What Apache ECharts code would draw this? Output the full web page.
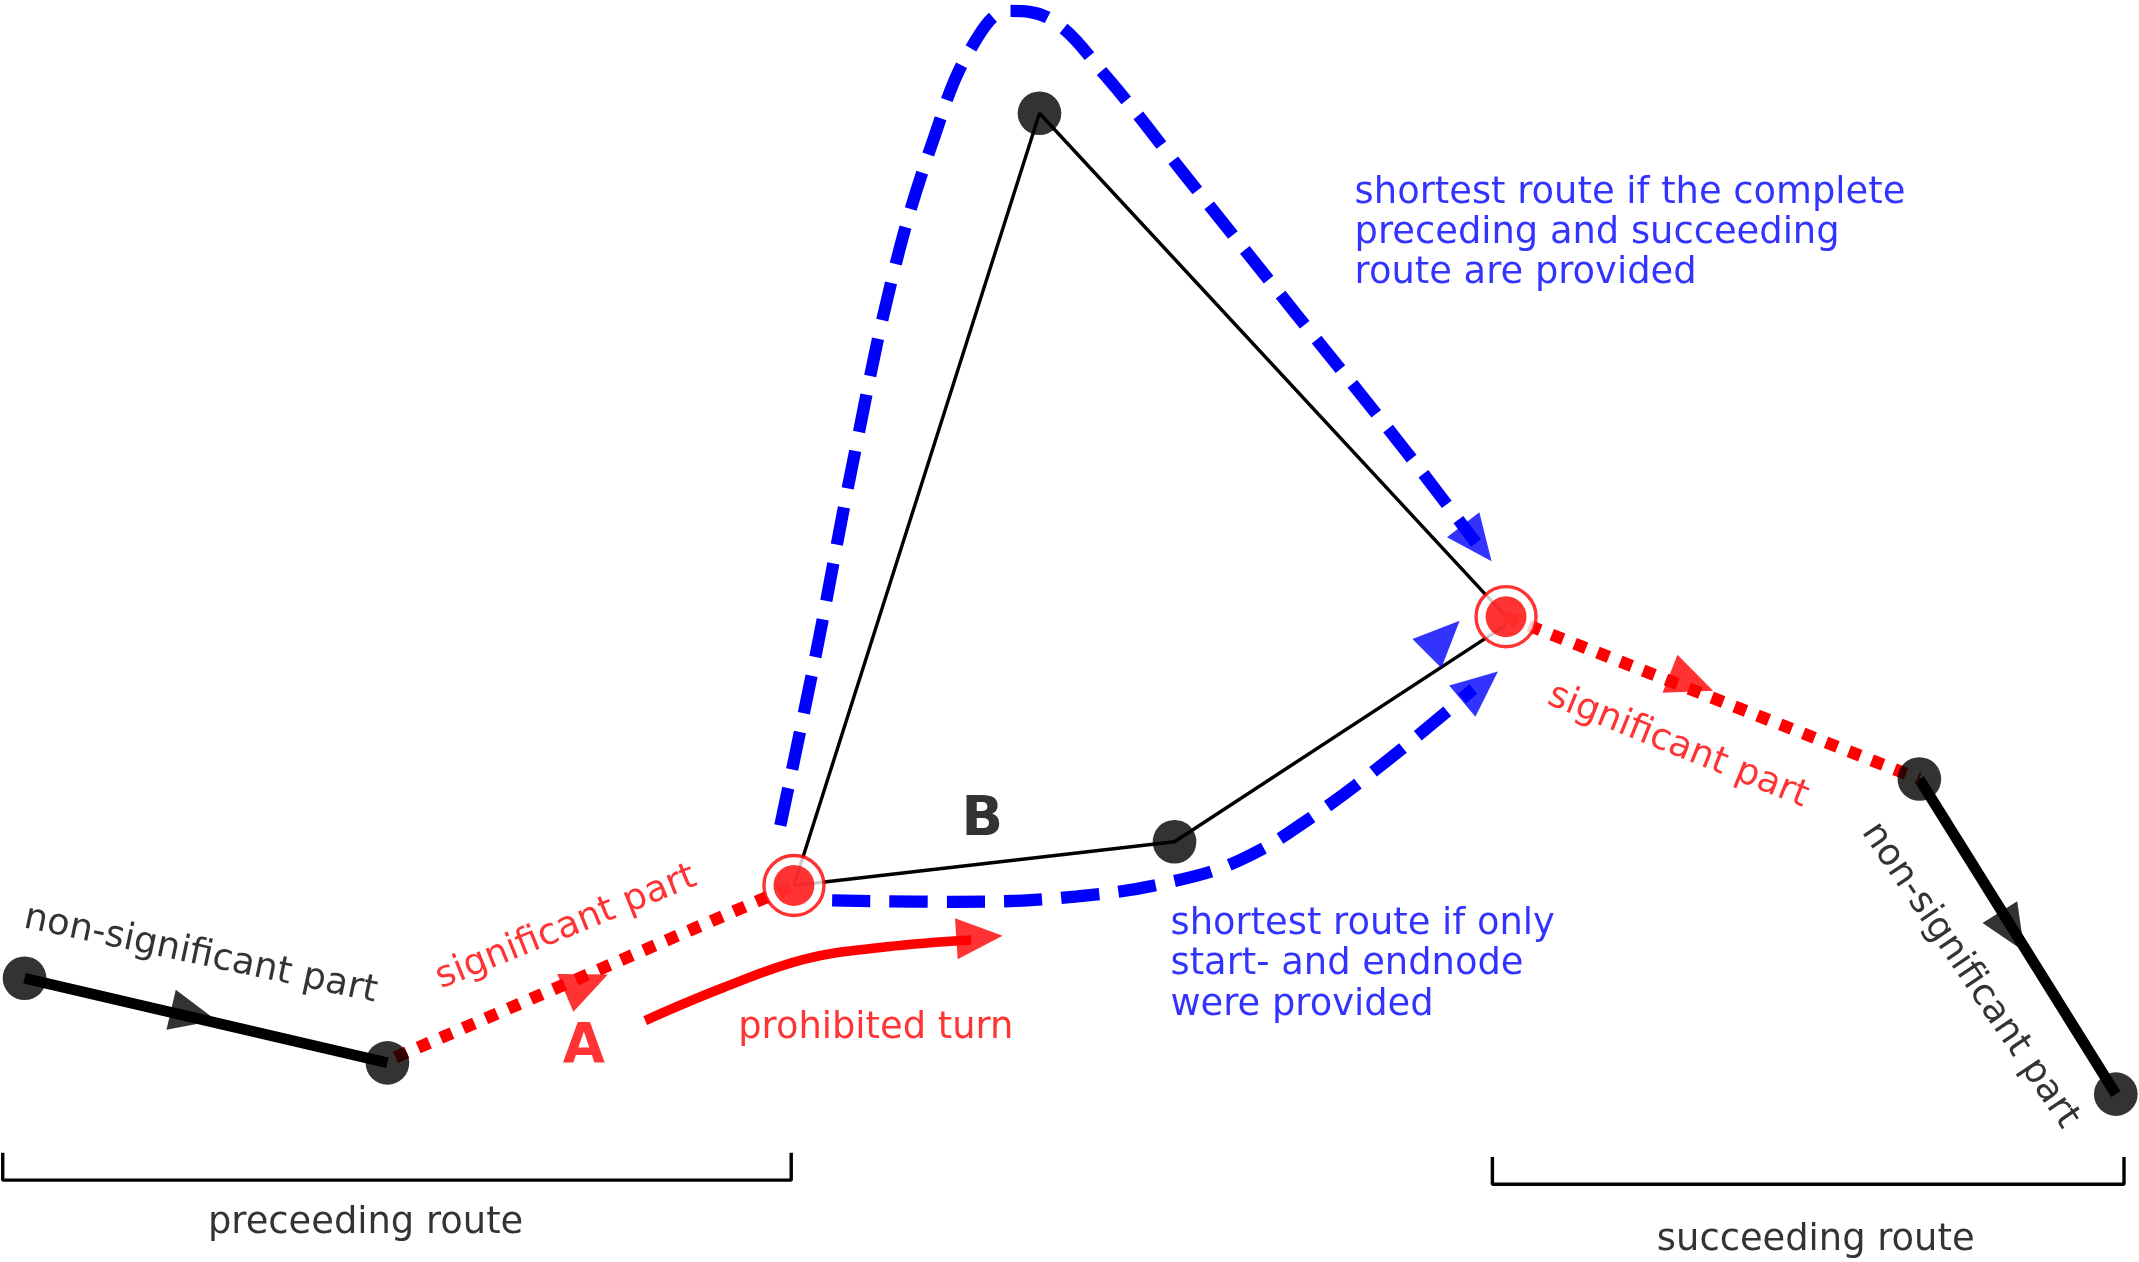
<!DOCTYPE html>
<html><head><meta charset="utf-8">
<script src="https://cdn.jsdelivr.net/npm/echarts@6/dist/echarts.min.js"></script>
<style>html,body{margin:0;padding:0;background:#fff}#c{width:2139px;height:1262px}</style>
</head><body><div id="c"></div>
<script>
// coordinates in a 1568 x 925 drawing space
var blackNodes = [[18,717],[284,779],[762,83],[861,617],[1407,571],[1551,802]];
var redNodes = [[582,649],[1104,452]];
var thinA = [[582,649],[762,83],[1104,452]];
var thinB = [[582,649],[861,617],[1104,458]];
var thickL = [[18,717],[284,779]];
var thickR = [[1407,571],[1551,802]];
var redDotL = [[290,775],[582,649]];
var redDotR = [[1104,452],[1407,571]];
var blueTop = [[572,605],[598,480],[625,340],[655,200],[685,100],[712,35],[740,8],[770,14],[810,55],[870,130],[950,230],[1030,330],[1082,398]];
var blueBot = [[610,660],[700,661],[790,657],[860,646],[910,630],[960,600],[1020,555],[1080,505]];
var prohib = [[473,748],[530,724],[590,703],[650,694],[712,689]];
// arrowheads: [x, y, dx, dy, colour]
var arrows = [
  [142,744,266,62,'#000'],[1475,683,144,231,'#000'],
  [430,721,292,-126,'#f00'],[1240,500,303,119,'#f00'],
  [1083,398,52,67,'#00f'],[1085,503,60,-50,'#00f'],[1058,467,40,-40,'#00f'],
  [718,687,62,-4,'#f00']
];
var texts = [
  ['non-significant part',147,700,-12,'#000','center','middle','normal'],
  ['significant part',415,680,22,'#f00','center','middle','normal'],
  ['A',428,768,0,'#f00','center','middle','bold'],
  ['prohibited turn',642,754,0,'#f00','center','middle','normal'],
  ['B',720,602,0,'#000','center','middle','bold'],
  ['shortest route if only\nstart- and endnode\nwere provided',858,663,0,'#00f','left','top','normal'],
  ['shortest route if the complete\npreceding and succeeding\nroute are provided',993,127,0,'#00f','left','top','normal'],
  ['significant part',1230,547,-22,'#f00','center','middle','normal'],
  ['non-significant part',1444,715,-56,'#000','center','middle','normal'],
  ['preceeding route',268,897,0,'#000','center','middle','normal'],
  ['succeeding route',1331,909,0,'#000','center','middle','normal']
];
var bracketL = [[2,845],[2,865],[580,865],[580,845]];
var bracketR = [[1094,848],[1094,868],[1557,868],[1557,848]];

var S = 2139/1568;
function line(d, c, w, type, smooth){
  return {type:'line', data:d, symbol:'none', smooth:smooth||false, silent:true, z:2,
    lineStyle:{color:c, width:w*S, type:type||'solid', cap:'butt'}};
}
var series = [
  line(thinA,'#000',2.5), line(thinB,'#000',2.5),
  line(thickL,'#000',8), line(thickR,'#000',8),
  line(redDotL,'#f00',9,[9*S,9*S]), line(redDotR,'#f00',9,[9*S,9*S]),
  line(blueTop,'#00f',9,[28*S,14*S],0.4), line(blueBot,'#00f',9,[28*S,14*S],0.4),
  line(prohib,'#f00',7,'solid',0.4),
  line(bracketL,'#000',2.5), line(bracketR,'#000',2.5),
  {type:'scatter', data:blackNodes, symbol:'circle', symbolSize:32*S, itemStyle:{color:'#000'}, z:5},
  {type:'scatter', data:redNodes, symbol:'circle', symbolSize:44*S, itemStyle:{color:'#fff',borderColor:'#f00',borderWidth:2.5*S}, z:5},
  {type:'scatter', data:redNodes, symbol:'circle', symbolSize:30*S, itemStyle:{color:'#f00'}, z:6},
  {type:'scatter', z:7, data:arrows.map(function(a){
    return {value:[a[0],a[1]], symbolRotate:Math.atan2(-a[3],a[2])*180/Math.PI-90, itemStyle:{color:a[4]}};
  }), symbol:'triangle', symbolSize:[30*S,34*S]},
  {type:'scatter', z:8, symbolSize:0, data:texts.map(function(t){
    return {value:[t[1],t[2]], label:{show:true, formatter:t[0], position:'inside', rotate:t[3], color:t[4],
      align:t[5], verticalAlign:t[6], fontWeight:t[7], fontSize:(t[7]==='bold'?40:27)*S, lineHeight:29.5*S,
      fontFamily:'DejaVu Sans'}};
  })}
];
var chart = echarts.init(document.getElementById('c'));
chart.setOption({
  animation:false,
  grid:{left:0,right:0,top:0,bottom:0},
  xAxis:{type:'value',min:0,max:1568,show:false},
  yAxis:{type:'value',min:0,max:925,inverse:true,show:false},
  series:series
});
</script></body></html>
